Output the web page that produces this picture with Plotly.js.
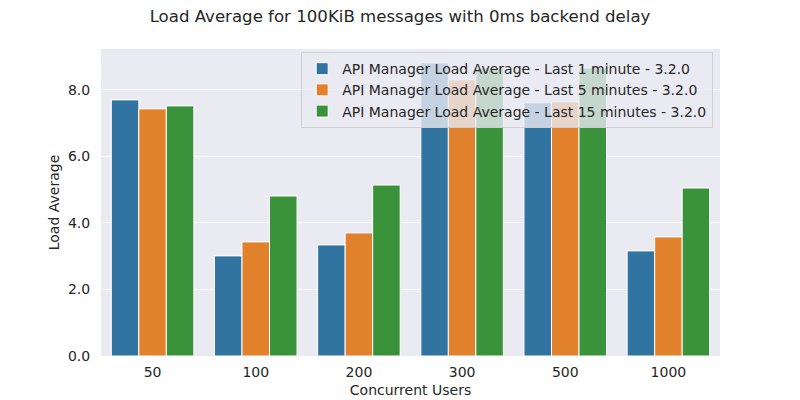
<!DOCTYPE html>
<html>
<head>
<meta charset="utf-8">
<script src="https://cdn.plot.ly/plotly-3.0.1.min.js"></script>
<style>html,body{margin:0;padding:0;background:#fff;}#chart{width:800px;height:400px;}</style>
</head>
<body>
<div id="chart"></div>
<script>
var categories = ["50", "100", "200", "300", "500", "1000"];
var seriesNames = [
  "API Manager Load Average - Last 1 minute - 3.2.0",
  "API Manager Load Average - Last 5 minutes - 3.2.0",
  "API Manager Load Average - Last 15 minutes - 3.2.0"
];
var load1 = [7.70, 3.01, 3.34, 8.81, 7.61, 3.16];
var load5 = [7.43, 3.43, 3.70, 8.30, 7.64, 3.58];
var load15 = [7.52, 4.81, 5.14, 8.66, 8.66, 5.05];
var colors = ["#3274a1", "#e1812c", "#3a923a"];

var seriesValues = [load1, load5, load15];
var traces = seriesValues.map(function (vals, i) {
  return {
    type: "bar",
    name: seriesNames[i],
    x: categories,
    y: vals,
    marker: { color: colors[i], line: { color: "#ffffff", width: 1 } },
    hoverinfo: "x+y+name"
  };
});

var font = "DejaVu Sans, sans-serif";
var txt = "#262626";
var layout = {
  width: 800,
  height: 400,
  margin: { l: 101, r: 80, t: 49, b: 44 },
  paper_bgcolor: "#ffffff",
  plot_bgcolor: "#eaeaf2",
  font: { family: font, size: 14, color: txt },
  title: {
    text: "Load Average for 100KiB messages with 0ms backend delay",
    font: { family: font, size: 16.6, color: txt },
    x: 0.5, xanchor: "center", y: 0.96, yanchor: "middle"
  },
  barmode: "group",
  bargap: 0.2,
  bargroupgap: 0,
  xaxis: {
    type: "category",
    title: { text: "Concurrent Users", font: { family: font, size: 14, color: txt }, standoff: 6 },
    showgrid: false,
    ticks: "outside",
    ticklen: 3,
    tickcolor: "rgba(0,0,0,0)",
    showline: false,
    zeroline: false,
    tickfont: { family: font, size: 14, color: txt }
  },
  yaxis: {
    title: { text: "Load Average", font: { family: font, size: 14, color: txt }, standoff: 5 },
    range: [0, 9.23],
    tickvals: [0, 2, 4, 6, 8],
    tickformat: ".1f",
    showgrid: true,
    gridcolor: "#ffffff",
    gridwidth: 1,
    zeroline: false,
    ticks: "outside",
    ticklen: 7,
    tickcolor: "rgba(0,0,0,0)",
    showline: false,
    tickfont: { family: font, size: 14, color: txt }
  },
  legend: {
    x: 0.989, xanchor: "right",
    y: 0.99, yanchor: "top",
    bgcolor: "rgba(234,234,242,0.8)",
    bordercolor: "rgba(204,204,204,0.8)",
    borderwidth: 1,
    font: { family: font, size: 14, color: txt },
    itemwidth: 30,
    tracegroupgap: 0,
    traceorder: "normal"
  },
  showlegend: true
};

Plotly.newPlot("chart", traces, layout, { displayModeBar: false, staticPlot: true });
</script>
</body>
</html>
